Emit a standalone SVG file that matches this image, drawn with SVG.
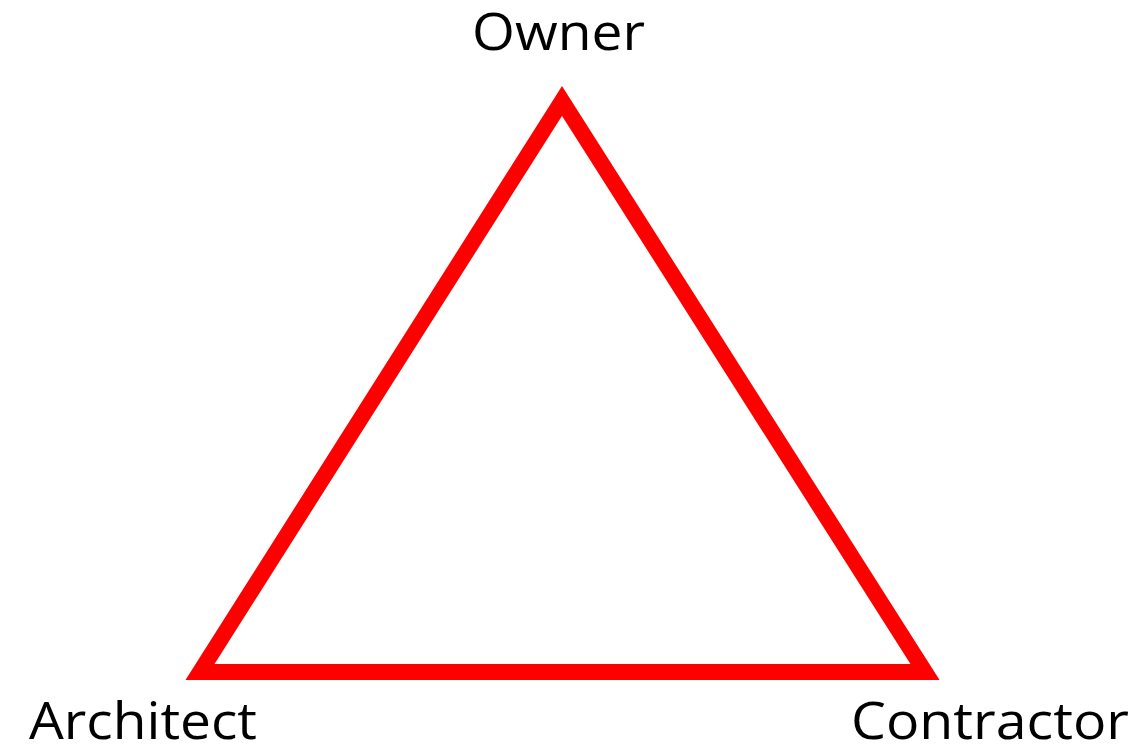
<svg xmlns="http://www.w3.org/2000/svg" width="1144" height="745" viewBox="0 0 1144 745">
<style>
.lbl{font-family:"Open Sans","Liberation Sans",sans-serif;font-size:52px;fill:#000}
.edge{fill:none;stroke:#ff0000;stroke-width:16;stroke-linejoin:miter;stroke-miterlimit:10}
</style>
<rect width="1144" height="745" fill="#fff"/>
<g id="connectors">
<polygon class="edge" points="562,101 200,672 925,672"/>
</g>
<g id="owner"><text class="lbl" x="472" y="50" textLength="173" lengthAdjust="spacingAndGlyphs">Owner</text></g>
<g id="architect"><text class="lbl" x="29" y="739" textLength="228" lengthAdjust="spacingAndGlyphs">Architect</text></g>
<g id="contractor"><text class="lbl" x="851" y="739" textLength="278" lengthAdjust="spacingAndGlyphs">Contractor</text></g>
</svg>
